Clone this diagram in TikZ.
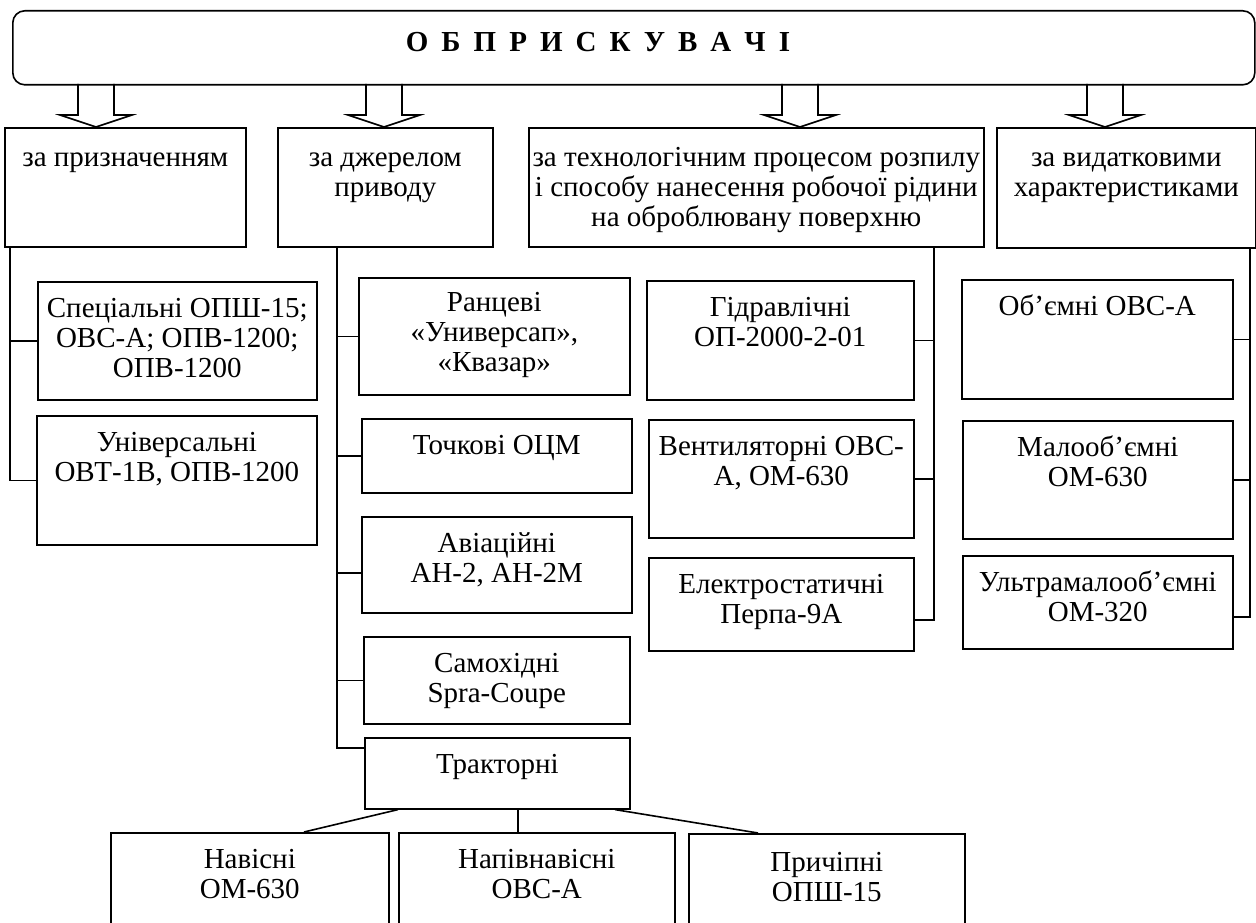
\documentclass[tikz,border=0pt]{standalone}
\usepackage{fontspec}
\setmainfont{Liberation Serif}

\newcommand{\cell}[1]{\begin{tabular}[t]{@{}c@{}}#1\end{tabular}}

\begin{document}
\begin{tikzpicture}[x=1pt,y=-1pt,line width=1.6pt,
    box/.style={draw,rectangle,inner sep=0pt,anchor=north west},
    txt/.style={anchor=base,inner sep=0pt,font=\fontsize{29}{30}\selectfont}]
  \useasboundingbox (0,0) rectangle (1256,923);
  \clip (0,0) rectangle (1256,923);

  % head
  \node[box,rounded corners=12pt,minimum width=1242,minimum height=74] (obpr) at (12,10) {};
  \node[anchor=base,font=\fontsize{29}{30}\selectfont\bfseries\addfontfeature{LetterSpace=20}]
    (obpr-t) at (598,52) {О Б П Р И С К У В А Ч І};
  \foreach \ax in {96,384,800,1105}
    \draw (\ax-18,84) -- (\ax-18,115) -- (\ax-36,115) -- (\ax,127)
      -- (\ax+36,115) -- (\ax+18,115) -- (\ax+18,84);

  % first level
  \node[box,minimum width=241,minimum height=119] (b1) at (4,127) {};
  \node[box,minimum width=215,minimum height=119] (b2) at (277,127) {};
  \node[box,minimum width=455,minimum height=119] (b3) at (528,127) {};
  \node[box,minimum width=259,minimum height=120] (b4) at (996,127) {};
  \node[txt] (b1-t) at ([yshift=-40pt]b1.north) {\cell{за призначенням}};
  \node[txt] (b2-t) at ([yshift=-40pt]b2.north) {\cell{за джерелом\\приводу}};
  \node[txt] (b3-t) at ([yshift=-40pt]b3.north) {\cell{за технологічним процесом розпилу\\і способу нанесення робочої рідини\\на оброблювану поверхню}};
  \node[txt] (b4-t) at ([yshift=-40pt]b4.north) {\cell{за видатковими\\характеристиками}};

  % za pryznachenniam
  \node[box,minimum width=279,minimum height=118] (spec) at (37,281) {};
  \node[box,minimum width=280,minimum height=129] (univ) at (36,415) {};
  \node[txt] (spec-t) at ([yshift=-36pt]spec.north) {\cell{Спеціальні ОПШ-15;\\ОВС-А; ОПВ-1200;\\ОПВ-1200}};
  \node[txt] (univ-t) at ([yshift=-36pt]univ.north) {\cell{Універсальні\\ОВТ-1В, ОПВ-1200}};
  \coordinate (t1) at (10,0);
  \draw (b1.south -| t1) -- (t1 |- univ.west) -- (univ.west);
  \draw (t1 |- spec.west) -- (spec.west);

  % za dzherelom pryvodu
  \node[box,minimum width=271,minimum height=117] (ranc) at (358,277) {};
  \node[box,minimum width=270,minimum height=74] (toch) at (361,418) {};
  \node[box,minimum width=270,minimum height=96] (avia) at (361,516) {};
  \node[box,minimum width=266,minimum height=87] (samo) at (363,636) {};
  \node[box,minimum width=265,minimum height=71] (trak) at (364,737) {};
  \node[txt] (ranc-t) at ([yshift=-34pt]ranc.north) {\cell{Ранцеві\\«Универсап»,\\«Квазар»}};
  \node[txt] (toch-t) at ([yshift=-36pt]toch.north) {\cell{Точкові ОЦМ}};
  \node[txt] (avia-t) at ([yshift=-36pt]avia.north) {\cell{Авіаційні\\АН-2, АН-2М}};
  \node[txt] (samo-t) at ([yshift=-36pt]samo.north) {\cell{Самохідні\\Spra-Coupe}};
  \node[txt] (trak-t) at ([yshift=-36pt]trak.north) {\cell{Тракторні}};
  \coordinate (t2) at (337,0);
  \coordinate (tk) at ([yshift=-11pt]trak.north west);
  \draw (b2.south -| t2) -- (t2 |- tk) -- (tk);
  \draw (t2 |- ranc.west) -- (ranc.west);
  \draw (t2 |- toch.west) -- (toch.west);
  \draw (t2 |- avia.west) ++(0,8) -- ([yshift=-8pt]avia.west);
  \draw (t2 |- samo.west) -- (samo.west);

  % traktorni
  \node[box,minimum width=278,minimum height=110] (nav) at (110,832) {};
  \node[box,minimum width=276,minimum height=110] (napv) at (398,832) {};
  \node[box,minimum width=276,minimum height=110] (prch) at (688,833) {};
  \node[txt] (nav-t) at ([yshift=-36pt]nav.north) {\cell{Навісні\\ОМ-630}};
  \node[txt] (napv-t) at ([yshift=-36pt]napv.north) {\cell{Напівнавісні\\ОВС-А}};
  \node[txt] (prch-t) at ([yshift=-38pt]prch.north) {\cell{Причіпні\\ОПШ-15}};
  \draw ([xshift=34pt]trak.south west) -- ([xshift=194pt]nav.north west);
  \draw ([xshift=154pt]trak.south west) -- ([xshift=120pt]napv.north west);
  \draw ([xshift=251pt]trak.south west) -- ([xshift=70pt]prch.north west);

  % za tekhnolohichnym protsesom
  \node[box,minimum width=267,minimum height=119] (hidr) at (646,280) {};
  \node[box,minimum width=265,minimum height=118] (vent) at (648,419) {};
  \node[box,minimum width=265,minimum height=93] (elek) at (648,557) {};
  \node[txt] (hidr-t) at ([yshift=-36pt]hidr.north) {\cell{Гідравлічні\\ОП-2000-2-01}};
  \node[txt] (vent-t) at ([yshift=-36pt]vent.north) {\cell{Вентиляторні ОВС-\\А, ОМ-630}};
  \node[txt] (elek-t) at ([yshift=-36pt]elek.north) {\cell{Електростатичні\\Перпа-9А}};
  \coordinate (t3) at (934,0);
  \coordinate (ek) at ([yshift=-15.5pt]elek.east);
  \draw (b3.south -| t3) -- (t3 |- ek) -- (ek);
  \draw (t3 |- hidr.east) -- (hidr.east);
  \draw (t3 |- vent.east) -- (vent.east);

  % za vydatkovymy kharakterystykamy
  \node[box,minimum width=271,minimum height=119] (obye) at (961,279) {};
  \node[box,minimum width=270,minimum height=118] (malo) at (962,420) {};
  \node[box,minimum width=270,minimum height=93] (ultr) at (962,555) {};
  \node[txt] (obye-t) at ([yshift=-36pt]obye.north) {\cell{Об’ємні ОВС-А}};
  \node[txt] (malo-t) at ([yshift=-36pt]malo.north) {\cell{Малооб’ємні\\ОМ-630}};
  \node[txt] (ultr-t) at ([yshift=-36pt]ultr.north) {\cell{Ультрамалооб’ємні\\ОМ-320}};
  \coordinate (t4) at (1250,0);
  \coordinate (uk) at ([yshift=-14.5pt]ultr.east);
  \draw (b4.south -| t4) -- (t4 |- uk) -- (uk);
  \draw (t4 |- obye.east) -- (obye.east);
  \draw (t4 |- malo.east) -- (malo.east);
\end{tikzpicture}
\end{document}
